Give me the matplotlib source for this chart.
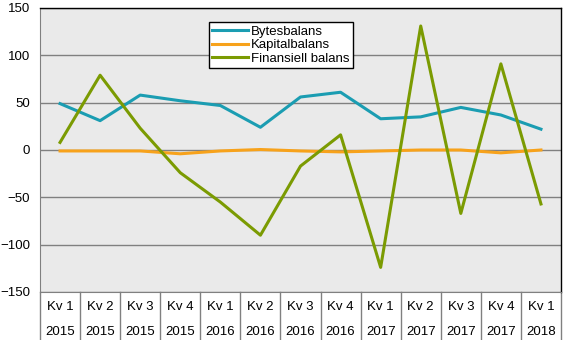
import matplotlib
matplotlib.use("Agg")
import matplotlib.pyplot as plt
import matplotlib.transforms as mtransforms

plt.rcParams['font.family'] = ['Liberation Sans', 'DejaVu Sans']

# data
kvartal = ["Kv 1", "Kv 2", "Kv 3", "Kv 4", "Kv 1", "Kv 2", "Kv 3", "Kv 4",
           "Kv 1", "Kv 2", "Kv 3", "Kv 4", "Kv 1"]
ar = ["2015", "2015", "2015", "2015", "2016", "2016", "2016", "2016",
      "2017", "2017", "2017", "2017", "2018"]
bytesbalans = [49, 31, 58, 52, 47, 24, 56, 61, 33, 35, 45, 37, 22]
kapitalbalans = [-1, -1, -1, -4, -1, 0.5, -1, -2, -1, 0, 0, -3, 0]
finansiell = [8, 79, 23, -24, -55, -90, -17, 16, -124, 131, -67, 91, -57]

fig = plt.figure(figsize=(5.67, 3.4), dpi=100)
ax = fig.add_axes([40/567, 48/340, 521/567, 284/340])
ax.set_facecolor("#eaeaea")

x = list(range(len(kvartal)))
ax.plot(x, bytesbalans, color="#1b9db2", lw=2.2, label="Bytesbalans")
ax.plot(x, kapitalbalans, color="#f7a21b", lw=2.2, label="Kapitalbalans")
ax.plot(x, finansiell, color="#7b9b02", lw=2.2, label="Finansiell balans")

ax.set_xlim(-0.5, 12.5)
ax.set_ylim(-150, 150)
ax.set_yticks([-150, -100, -50, 0, 50, 100, 150])
ax.yaxis.grid(True, color="#808080", lw=1)
ax.set_axisbelow(True)
ax.tick_params(axis="y", length=0, labelsize=9.5, pad=7)
ax.set_xticks([])

for s in ["top", "right"]:
    ax.spines[s].set_color("black")
    ax.spines[s].set_linewidth(1)
ax.spines["left"].set_color("#808080")
ax.spines["bottom"].set_color("#808080")

# kategori-axel med två rader
tr = mtransforms.blended_transform_factory(ax.transData, ax.transAxes)
for i in range(len(kvartal) + 1):
    ax.plot([i - 0.5, i - 0.5], [0, -0.17], color="#808080", lw=1,
            transform=tr, clip_on=False)
for i in range(len(kvartal)):
    ax.text(i, -0.052, kvartal[i], transform=tr, ha="center", va="center", fontsize=9.5)
for i in range(len(ar)):
    ax.text(i, -0.14, ar[i], transform=tr, ha="center", va="center", fontsize=9.5)

leg = ax.legend(loc="upper left", bbox_to_anchor=(0.324, 0.95), fontsize=9.5,
                frameon=True, fancybox=False, framealpha=1, edgecolor="black",
                handlelength=2.7, borderpad=0.25, labelspacing=0.1, handletextpad=0.25,
                borderaxespad=0)
leg.get_frame().set_linewidth(1)

fig.savefig("out.png", dpi=100)
